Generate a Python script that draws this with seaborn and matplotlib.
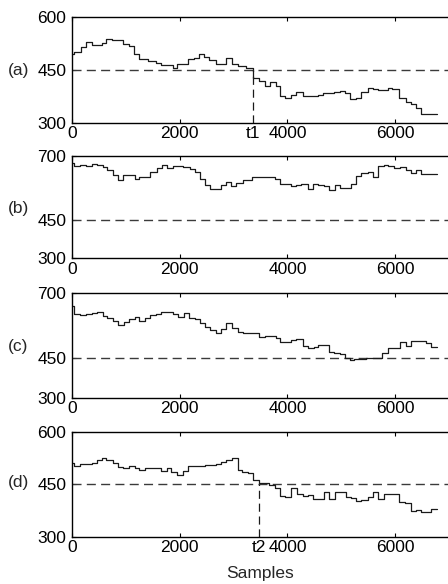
import matplotlib
matplotlib.use('Agg')
import pandas as pd
import seaborn as sns
from matplotlib import pyplot as plt

# step-change positions (samples) and the level held from each one
samples_a = [0, 40, 160, 260, 365, 550, 640, 735, 950, 1060, 1150, 1250, 1415, 1555,
             1660, 1875, 1950, 2155, 2260, 2360, 2445, 2545, 2680, 2865, 2975, 3080,
             3235, 3360, 3465, 3575, 3685, 3790, 3870, 3955, 4070, 4160, 4285, 4560,
             4655, 4870, 4980, 5070, 5165, 5270, 5375, 5490, 5580, 5685, 5870, 5950,
             6075, 6200, 6290, 6385, 6475, 6780]
values_a = [496, 502, 515, 531, 522, 528, 538, 535, 524, 518, 496, 481, 477, 471,
            464, 457, 467, 481, 485, 496, 488, 479, 467, 483, 467, 460,
            455, 428, 420, 405, 417, 405, 377, 371, 379, 388, 377, 379,
            384, 387, 390, 384, 367, 371, 388, 400, 396, 392, 400, 396,
            371, 360, 352, 343, 324, 324]

samples_b = [0, 40, 150, 260, 365, 455, 580, 655, 755, 860, 950, 1165, 1245, 1445,
             1570, 1680, 1765, 1875, 2060, 2185, 2280, 2370, 2465, 2555, 2770, 2865,
             2955, 3050, 3175, 3345, 3760, 3870, 4070, 4160, 4255, 4375, 4470, 4560,
             4675, 4780, 4885, 4980, 5180, 5270, 5375, 5490, 5580, 5685, 5785, 5870,
             5970, 6095, 6200, 6290, 6385, 6475, 6780]
values_b = [672, 659, 664, 661, 668, 664, 656, 645, 626, 604, 626, 609, 616, 635,
            651, 665, 653, 660, 655, 648, 635, 609, 587, 570, 587, 596,
            581, 594, 606, 617, 609, 591, 581, 587, 591, 570, 591, 585,
            581, 567, 585, 574, 591, 622, 633, 638, 617, 659, 665, 661,
            652, 655, 643, 633, 643, 630, 630]

samples_c = [0, 40, 150, 260, 365, 455, 570, 655, 755, 860, 965, 1060, 1165, 1245,
             1350, 1455, 1555, 1660, 1875, 1970, 2075, 2175, 2280, 2370, 2465, 2555,
             2665, 2770, 2865, 2975, 3080, 3175, 3360, 3465, 3575, 3790, 3870, 4070,
             4160, 4285, 4375, 4490, 4575, 4780, 4870, 4980, 5070, 5165, 5240, 5455,
             5765, 5870, 6095, 6200, 6290, 6570, 6675, 6780]
values_c = [650, 619, 615, 619, 621, 626, 612, 604, 593, 577, 587, 599, 606, 592,
            602, 614, 620, 626, 619, 609, 621, 602, 599, 583, 568, 558,
            548, 562, 583, 564, 551, 545, 548, 532, 536, 526, 511, 520,
            524, 497, 488, 494, 501, 475, 471, 465, 450, 444, 447, 452,
            471, 488, 511, 498, 516, 507, 494, 494]

samples_d = [0, 40, 150, 365, 455, 550, 640, 755, 860, 950, 1060, 1165, 1245, 1350,
             1660, 1755, 1845, 1950, 2060, 2155, 2465, 2680, 2770, 2865, 2975, 3080,
             3160, 3265, 3370, 3465, 3665, 3770, 3870, 3955, 4070, 4180, 4285, 4375,
             4470, 4675, 4780, 4885, 5085, 5180, 5270, 5375, 5490, 5580, 5685, 5785,
             6075, 6180, 6290, 6385, 6475, 6660, 6780]
values_d = [510, 501, 507, 511, 520, 526, 520, 510, 500, 497, 501, 495, 490, 497,
            488, 497, 484, 476, 488, 501, 505, 508, 512, 520, 526, 491,
            486, 481, 463, 453, 447, 438, 417, 413, 438, 422, 417, 418,
            408, 427, 408, 427, 413, 410, 403, 406, 413, 427, 408, 422,
            400, 396, 374, 376, 371, 379, 379]

panel_names = ['(a)', '(b)', '(c)', '(d)']
y_limits = [(300, 600), (300, 700), (300, 700), (300, 600)]
y_ticks = [[300, 450, 600], [300, 450, 700], [300, 450, 700], [300, 450, 600]]
threshold = 450
t1 = 3370
t2 = 3465
change_points = [(t1, 't1'), None, None, (t2, 't2')]

sns.set_style('ticks')
plt.rcParams['font.family'] = ['Liberation Sans', 'DejaVu Sans']
plt.rcParams.update({
    'font.size': 12.5,
    'axes.linewidth': 1.0,
    'axes.edgecolor': 'black',
    'xtick.direction': 'in',
    'ytick.direction': 'in',
    'xtick.major.size': 3,
    'ytick.major.size': 3,
    'xtick.color': 'black',
    'ytick.color': 'black',
})

W, H = 448, 584
fig = plt.figure(figsize=(W / 100, H / 100), dpi=100)

# axes boxes in pixels from the top: (top, bottom); x from 72 to 449
boxes = [(17.3, 122.7), (155.7, 258.3), (292.7, 397.7), (431.7, 536.7)]
label_y = [70, 208, 346, 482]
x_left, x_right = 72, 449

series = [(samples_a, values_a), (samples_b, values_b),
          (samples_c, values_c), (samples_d, values_d)]

for i, (sx, sy) in enumerate(series):
    top, bottom = boxes[i]
    ax = fig.add_axes([x_left / W, (H - bottom) / H,
                       (x_right - x_left) / W, (bottom - top) / H])
    df = pd.DataFrame({'Samples': sx, 'Value': sy})
    sns.lineplot(data=df, x='Samples', y='Value', ax=ax, estimator=None,
                 drawstyle='steps-post', color='#1a1a1a', linewidth=0.9)
    ax.axhline(threshold, color='#3a3a3a', linewidth=1.0,
               linestyle=(0, (6.5, 3.8)), zorder=1)
    if change_points[i] is not None:
        tc, tl = change_points[i]
        ax.plot([tc, tc], [y_limits[i][0], threshold], color='#1a1a1a',
                linewidth=0.9, linestyle=(0, (6.5, 3.8)))
        ax.set_xticks([tc], minor=True)
        ax.set_xticklabels([tl], minor=True)
    ax.set_xlim(0, 7000)
    ax.set_ylim(*y_limits[i])
    ax.set_xticks([0, 2000, 4000, 6000])
    ax.set_yticks(y_ticks[i])
    ax.tick_params(which='major', top=True, bottom=True, left=True,
                   labelsize=12.5)
    ax.tick_params(axis='x', which='both', pad=2.5)
    ax.tick_params(axis='y', pad=4)
    ax.tick_params(which='minor', length=0, top=False, labelsize=12.5)
    ax.set_ylabel('')
    ax.set_xlabel('Samples' if i == 3 else '', fontsize=12.5, labelpad=8)
    for s in ax.spines.values():
        s.set_visible(True)
    fig.text(8 / W, 1 - label_y[i] / H, panel_names[i], ha='left', va='center',
             fontsize=12.5)

fig.savefig('out.png', dpi=100)
